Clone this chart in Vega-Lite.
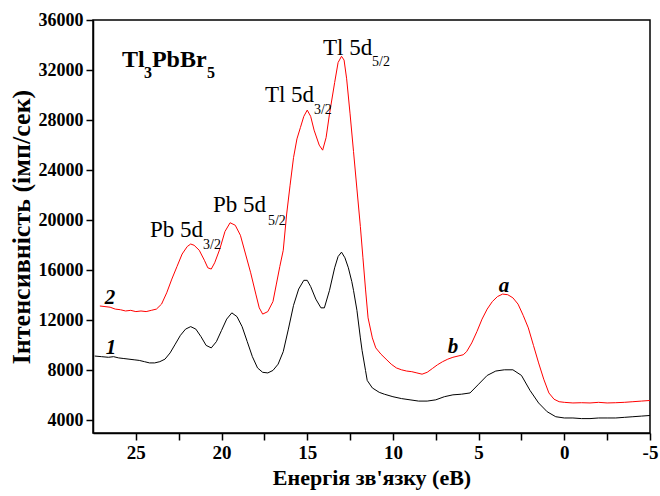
{
  "$schema": "https://vega.github.io/schema/vega-lite/v6.json",
  "width": 557,
  "height": 413,
  "autosize": {"type": "none"},
  "padding": {"left": 93, "top": 20, "right": 10, "bottom": 63},
  "background": "white",
  "config": {
    "view": {"stroke": "black", "strokeWidth": 1.5},
    "font": "Times New Roman, Liberation Serif, serif"
  },
  "datasets": {
    "curves": [
      {"E": 27.1, "I": 13150, "s": "2"}, {"E": 26.8, "I": 13100, "s": "2"}, {"E": 26.5, "I": 13050, "s": "2"}, {"E": 26.2, "I": 12900, "s": "2"}, {"E": 25.9, "I": 12850, "s": "2"}, {"E": 25.6, "I": 12750, "s": "2"}, {"E": 25.3, "I": 12800, "s": "2"}, {"E": 25.0, "I": 12700, "s": "2"}, {"E": 24.7, "I": 12750, "s": "2"}, {"E": 24.4, "I": 12700, "s": "2"}, {"E": 24.1, "I": 12800, "s": "2"}, {"E": 23.8, "I": 12900, "s": "2"}, {"E": 23.5, "I": 13300, "s": "2"}, {"E": 23.2, "I": 14200, "s": "2"}, {"E": 22.9, "I": 15300, "s": "2"}, {"E": 22.6, "I": 16300, "s": "2"}, {"E": 22.3, "I": 17300, "s": "2"}, {"E": 22.0, "I": 17900, "s": "2"}, {"E": 21.8, "I": 18100, "s": "2"}, {"E": 21.6, "I": 18000, "s": "2"}, {"E": 21.3, "I": 17600, "s": "2"}, {"E": 21.0, "I": 16800, "s": "2"}, {"E": 20.8, "I": 16200, "s": "2"}, {"E": 20.6, "I": 16100, "s": "2"}, {"E": 20.4, "I": 16600, "s": "2"}, {"E": 20.1, "I": 17700, "s": "2"}, {"E": 19.8, "I": 19100, "s": "2"}, {"E": 19.5, "I": 19800, "s": "2"}, {"E": 19.2, "I": 19600, "s": "2"}, {"E": 18.9, "I": 18800, "s": "2"}, {"E": 18.6, "I": 17300, "s": "2"}, {"E": 18.3, "I": 15800, "s": "2"}, {"E": 18.0, "I": 14100, "s": "2"}, {"E": 17.8, "I": 13000, "s": "2"}, {"E": 17.6, "I": 12500, "s": "2"}, {"E": 17.3, "I": 12700, "s": "2"}, {"E": 17.0, "I": 13500, "s": "2"}, {"E": 16.8, "I": 14900, "s": "2"}, {"E": 16.6, "I": 16300, "s": "2"}, {"E": 16.4, "I": 17600, "s": "2"}, {"E": 16.2, "I": 20500, "s": "2"}, {"E": 16.0, "I": 22800, "s": "2"}, {"E": 15.8, "I": 25000, "s": "2"}, {"E": 15.6, "I": 26500, "s": "2"}, {"E": 15.4, "I": 27400, "s": "2"}, {"E": 15.2, "I": 28300, "s": "2"}, {"E": 15.0, "I": 28800, "s": "2"}, {"E": 14.8, "I": 28300, "s": "2"}, {"E": 14.6, "I": 27200, "s": "2"}, {"E": 14.3, "I": 26000, "s": "2"}, {"E": 14.1, "I": 25600, "s": "2"}, {"E": 13.9, "I": 26600, "s": "2"}, {"E": 13.7, "I": 28500, "s": "2"}, {"E": 13.4, "I": 31000, "s": "2"}, {"E": 13.2, "I": 32600, "s": "2"}, {"E": 13.0, "I": 33100, "s": "2"}, {"E": 12.85, "I": 32800, "s": "2"}, {"E": 12.7, "I": 31300, "s": "2"}, {"E": 12.5, "I": 28500, "s": "2"}, {"E": 12.3, "I": 25500, "s": "2"}, {"E": 12.1, "I": 22500, "s": "2"}, {"E": 11.9, "I": 19500, "s": "2"}, {"E": 11.75, "I": 17000, "s": "2"}, {"E": 11.6, "I": 14500, "s": "2"}, {"E": 11.45, "I": 12200, "s": "2"}, {"E": 11.2, "I": 10600, "s": "2"}, {"E": 11.0, "I": 9800, "s": "2"}, {"E": 10.7, "I": 9300, "s": "2"}, {"E": 10.4, "I": 8900, "s": "2"}, {"E": 10.1, "I": 8500, "s": "2"}, {"E": 9.8, "I": 8200, "s": "2"}, {"E": 9.5, "I": 8050, "s": "2"}, {"E": 9.2, "I": 7950, "s": "2"}, {"E": 8.9, "I": 7900, "s": "2"}, {"E": 8.6, "I": 7800, "s": "2"}, {"E": 8.3, "I": 7700, "s": "2"}, {"E": 8.0, "I": 7850, "s": "2"}, {"E": 7.7, "I": 8150, "s": "2"}, {"E": 7.4, "I": 8450, "s": "2"}, {"E": 7.1, "I": 8700, "s": "2"}, {"E": 6.8, "I": 8900, "s": "2"}, {"E": 6.5, "I": 9050, "s": "2"}, {"E": 6.2, "I": 9150, "s": "2"}, {"E": 5.9, "I": 9250, "s": "2"}, {"E": 5.7, "I": 9500, "s": "2"}, {"E": 5.4, "I": 10200, "s": "2"}, {"E": 5.1, "I": 11100, "s": "2"}, {"E": 4.8, "I": 12100, "s": "2"}, {"E": 4.5, "I": 12900, "s": "2"}, {"E": 4.2, "I": 13500, "s": "2"}, {"E": 3.9, "I": 13900, "s": "2"}, {"E": 3.6, "I": 14100, "s": "2"}, {"E": 3.3, "I": 14050, "s": "2"}, {"E": 3.0, "I": 13800, "s": "2"}, {"E": 2.7, "I": 13300, "s": "2"}, {"E": 2.4, "I": 12400, "s": "2"}, {"E": 2.1, "I": 11400, "s": "2"}, {"E": 1.8, "I": 10000, "s": "2"}, {"E": 1.5, "I": 8600, "s": "2"}, {"E": 1.2, "I": 7300, "s": "2"}, {"E": 0.9, "I": 6200, "s": "2"}, {"E": 0.6, "I": 5700, "s": "2"}, {"E": 0.3, "I": 5500, "s": "2"}, {"E": 0.0, "I": 5450, "s": "2"}, {"E": -0.5, "I": 5400, "s": "2"}, {"E": -1.0, "I": 5420, "s": "2"}, {"E": -1.5, "I": 5400, "s": "2"}, {"E": -2.0, "I": 5450, "s": "2"}, {"E": -2.5, "I": 5400, "s": "2"}, {"E": -3.0, "I": 5420, "s": "2"}, {"E": -3.5, "I": 5450, "s": "2"}, {"E": -4.0, "I": 5500, "s": "2"}, {"E": -4.5, "I": 5550, "s": "2"}, {"E": -5.0, "I": 5600, "s": "2"},
      {"E": 27.4, "I": 9150, "s": "1"}, {"E": 27.0, "I": 9100, "s": "1"}, {"E": 26.6, "I": 9050, "s": "1"}, {"E": 26.3, "I": 9100, "s": "1"}, {"E": 26.0, "I": 9000, "s": "1"}, {"E": 25.7, "I": 8950, "s": "1"}, {"E": 25.4, "I": 8900, "s": "1"}, {"E": 25.1, "I": 8850, "s": "1"}, {"E": 24.8, "I": 8800, "s": "1"}, {"E": 24.5, "I": 8700, "s": "1"}, {"E": 24.2, "I": 8600, "s": "1"}, {"E": 23.9, "I": 8600, "s": "1"}, {"E": 23.6, "I": 8700, "s": "1"}, {"E": 23.3, "I": 8900, "s": "1"}, {"E": 23.0, "I": 9400, "s": "1"}, {"E": 22.7, "I": 10100, "s": "1"}, {"E": 22.4, "I": 10800, "s": "1"}, {"E": 22.1, "I": 11300, "s": "1"}, {"E": 21.8, "I": 11500, "s": "1"}, {"E": 21.5, "I": 11300, "s": "1"}, {"E": 21.2, "I": 10700, "s": "1"}, {"E": 20.9, "I": 10000, "s": "1"}, {"E": 20.6, "I": 9800, "s": "1"}, {"E": 20.3, "I": 10300, "s": "1"}, {"E": 20.0, "I": 11200, "s": "1"}, {"E": 19.7, "I": 12100, "s": "1"}, {"E": 19.4, "I": 12600, "s": "1"}, {"E": 19.1, "I": 12300, "s": "1"}, {"E": 18.8, "I": 11500, "s": "1"}, {"E": 18.5, "I": 10300, "s": "1"}, {"E": 18.2, "I": 9100, "s": "1"}, {"E": 17.9, "I": 8200, "s": "1"}, {"E": 17.6, "I": 7850, "s": "1"}, {"E": 17.3, "I": 7800, "s": "1"}, {"E": 17.0, "I": 8000, "s": "1"}, {"E": 16.7, "I": 8500, "s": "1"}, {"E": 16.4, "I": 9500, "s": "1"}, {"E": 16.1, "I": 11300, "s": "1"}, {"E": 15.8, "I": 13200, "s": "1"}, {"E": 15.5, "I": 14500, "s": "1"}, {"E": 15.2, "I": 15200, "s": "1"}, {"E": 15.0, "I": 15200, "s": "1"}, {"E": 14.8, "I": 14700, "s": "1"}, {"E": 14.5, "I": 13700, "s": "1"}, {"E": 14.2, "I": 13000, "s": "1"}, {"E": 14.0, "I": 13000, "s": "1"}, {"E": 13.7, "I": 14400, "s": "1"}, {"E": 13.4, "I": 16200, "s": "1"}, {"E": 13.2, "I": 17100, "s": "1"}, {"E": 13.0, "I": 17450, "s": "1"}, {"E": 12.8, "I": 17000, "s": "1"}, {"E": 12.6, "I": 16200, "s": "1"}, {"E": 12.4, "I": 15100, "s": "1"}, {"E": 12.3, "I": 14400, "s": "1"}, {"E": 12.1, "I": 12800, "s": "1"}, {"E": 11.9, "I": 10600, "s": "1"}, {"E": 11.8, "I": 9600, "s": "1"}, {"E": 11.6, "I": 8000, "s": "1"}, {"E": 11.5, "I": 7200, "s": "1"}, {"E": 11.2, "I": 6600, "s": "1"}, {"E": 10.8, "I": 6250, "s": "1"}, {"E": 10.5, "I": 6100, "s": "1"}, {"E": 10.0, "I": 5900, "s": "1"}, {"E": 9.5, "I": 5750, "s": "1"}, {"E": 9.0, "I": 5650, "s": "1"}, {"E": 8.5, "I": 5550, "s": "1"}, {"E": 8.0, "I": 5550, "s": "1"}, {"E": 7.5, "I": 5650, "s": "1"}, {"E": 7.0, "I": 5900, "s": "1"}, {"E": 6.5, "I": 6050, "s": "1"}, {"E": 6.0, "I": 6100, "s": "1"}, {"E": 5.5, "I": 6200, "s": "1"}, {"E": 5.0, "I": 6900, "s": "1"}, {"E": 4.5, "I": 7600, "s": "1"}, {"E": 4.0, "I": 7950, "s": "1"}, {"E": 3.5, "I": 8050, "s": "1"}, {"E": 3.0, "I": 8050, "s": "1"}, {"E": 2.5, "I": 7600, "s": "1"}, {"E": 2.0, "I": 6400, "s": "1"}, {"E": 1.5, "I": 5400, "s": "1"}, {"E": 1.0, "I": 4700, "s": "1"}, {"E": 0.5, "I": 4300, "s": "1"}, {"E": 0.0, "I": 4200, "s": "1"}, {"E": -0.5, "I": 4200, "s": "1"}, {"E": -1.0, "I": 4150, "s": "1"}, {"E": -1.5, "I": 4150, "s": "1"}, {"E": -2.0, "I": 4200, "s": "1"}, {"E": -2.5, "I": 4200, "s": "1"}, {"E": -3.0, "I": 4200, "s": "1"}, {"E": -3.5, "I": 4250, "s": "1"}, {"E": -4.0, "I": 4300, "s": "1"}, {"E": -4.5, "I": 4350, "s": "1"}, {"E": -5.0, "I": 4400, "s": "1"}
    ],
    "labels": [
      {"t": "Tl", "E": 25.81, "I": 32240, "k": "title"},
      {"t": "3", "E": 24.52, "I": 31400, "k": "titlesub"},
      {"t": "PbBr", "E": 24.06, "I": 32240, "k": "title"},
      {"t": "5", "E": 20.85, "I": 31400, "k": "titlesub"},
      {"t": "Pb 5d", "E": 24.17, "I": 18640, "k": "peak"},
      {"t": "3/2", "E": 21.08, "I": 17700, "k": "sub"},
      {"t": "Pb 5d", "E": 20.5, "I": 20640, "k": "peak"},
      {"t": "5/2", "E": 17.29, "I": 19650, "k": "sub"},
      {"t": "Tl 5d", "E": 17.47, "I": 29440, "k": "peak"},
      {"t": "3/2", "E": 14.61, "I": 28450, "k": "sub"},
      {"t": "Tl 5d", "E": 14.08, "I": 33200, "k": "peak"},
      {"t": "5/2", "E": 11.22, "I": 32300, "k": "sub"},
      {"t": "2", "E": 26.51, "I": 13280, "k": "curve"},
      {"t": "1", "E": 26.45, "I": 9280, "k": "curve"},
      {"t": "b", "E": 6.5, "I": 9360, "k": "curve"},
      {"t": "a", "E": 3.52, "I": 14240, "k": "curve"}
    ]
  },
  "layer": [
    {
      "data": {"name": "curves"},
      "mark": {"type": "line", "strokeWidth": 1, "clip": true},
      "encoding": {
        "x": {
          "field": "E", "type": "quantitative",
          "scale": {"domain": [27.5, -5], "nice": false, "zero": false},
          "axis": {
            "title": "Енергія зв'язку (еВ)",
            "values": [25, 22.5, 20, 17.5, 15, 12.5, 10, 7.5, 5, 2.5, 0, -2.5, -5],
            "labelExpr": "datum.value % 5 === 0 ? '' + datum.value : ''",
            "grid": false, "domainColor": "black", "domainWidth": 1.5,
            "tickColor": "black", "tickWidth": 1.5, "tickSize": 7,
            "labelFont": "Times New Roman, Liberation Serif, serif", "labelFontWeight": "bold", "labelFontSize": 19, "labelColor": "black", "labelPadding": 3,
            "titleFont": "Times New Roman, Liberation Serif, serif", "titleFontWeight": "bold", "titleFontSize": 22, "titleColor": "black", "titlePadding": 5,
            "labelOverlap": false, "labelFlush": false
          }
        },
        "y": {
          "field": "I", "type": "quantitative",
          "scale": {"domain": [3000, 36000], "nice": false, "zero": false},
          "axis": {
            "title": "Інтенсивність (імп/сек)",
            "values": [4000, 6000, 8000, 10000, 12000, 14000, 16000, 18000, 20000, 22000, 24000, 26000, 28000, 30000, 32000, 34000, 36000],
            "labelExpr": "datum.value % 4000 === 0 ? '' + datum.value : ''",
            "grid": false, "domainColor": "black", "domainWidth": 1.5,
            "tickColor": "black", "tickWidth": 1.5, "tickSize": 7,
            "labelFont": "Times New Roman, Liberation Serif, serif", "labelFontWeight": "bold", "labelFontSize": 18, "labelColor": "black", "labelPadding": 3,
            "titleFont": "Times New Roman, Liberation Serif, serif", "titleFontWeight": "bold", "titleFontSize": 26, "titleColor": "black", "titlePadding": 4,
            "labelOverlap": false, "labelFlush": false
          }
        },
        "color": {
          "field": "s", "type": "nominal",
          "scale": {"domain": ["1", "2"], "range": ["#000000", "#ff0000"]},
          "legend": null
        },
        "detail": {"field": "s"}
      }
    },
    {
      "data": {"name": "labels"},
      "transform": [{"filter": "datum.k === 'title'"}],
      "mark": {"type": "text", "font": "Times New Roman, Liberation Serif, serif", "fontWeight": "bold", "fontSize": 24, "align": "left", "baseline": "alphabetic", "color": "black"},
      "encoding": {"x": {"field": "E", "type": "quantitative"}, "y": {"field": "I", "type": "quantitative"}, "text": {"field": "t"}}
    },
    {
      "data": {"name": "labels"},
      "transform": [{"filter": "datum.k === 'titlesub'"}],
      "mark": {"type": "text", "font": "Times New Roman, Liberation Serif, serif", "fontWeight": "bold", "fontSize": 16, "align": "left", "baseline": "alphabetic", "color": "black"},
      "encoding": {"x": {"field": "E", "type": "quantitative"}, "y": {"field": "I", "type": "quantitative"}, "text": {"field": "t"}}
    },
    {
      "data": {"name": "labels"},
      "transform": [{"filter": "datum.k === 'peak'"}],
      "mark": {"type": "text", "font": "Times New Roman, Liberation Serif, serif", "fontSize": 23, "align": "left", "baseline": "alphabetic", "color": "black"},
      "encoding": {"x": {"field": "E", "type": "quantitative"}, "y": {"field": "I", "type": "quantitative"}, "text": {"field": "t"}}
    },
    {
      "data": {"name": "labels"},
      "transform": [{"filter": "datum.k === 'sub'"}],
      "mark": {"type": "text", "font": "Times New Roman, Liberation Serif, serif", "fontSize": 14, "align": "left", "baseline": "alphabetic", "color": "black"},
      "encoding": {"x": {"field": "E", "type": "quantitative"}, "y": {"field": "I", "type": "quantitative"}, "text": {"field": "t"}}
    },
    {
      "data": {"name": "labels"},
      "transform": [{"filter": "datum.k === 'curve'"}],
      "mark": {"type": "text", "font": "Times New Roman, Liberation Serif, serif", "fontWeight": "bold", "fontStyle": "italic", "fontSize": 21, "align": "center", "baseline": "alphabetic", "color": "black"},
      "encoding": {"x": {"field": "E", "type": "quantitative"}, "y": {"field": "I", "type": "quantitative"}, "text": {"field": "t"}}
    }
  ]
}
